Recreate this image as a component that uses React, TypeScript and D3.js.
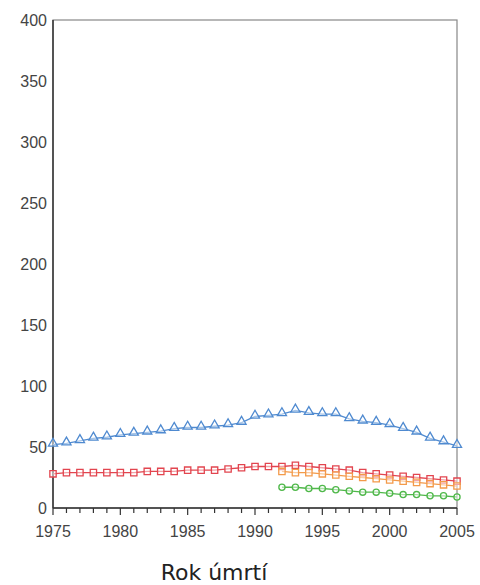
import React from "react";
import * as d3 from "d3";

const years = d3.range(1975, 2006);
const lateYears = d3.range(1992, 2006);

// blue triangles, 1975-2005
const blueValues = [
  52, 53, 55, 57, 58, 60, 61, 62, 63, 65, 66, 66, 67, 68, 70, 75, 76, 77, 80, 78,
  77, 77, 73, 71, 70, 68, 65, 62, 57, 54, 51,
];
// red squares, 1975-2005
const redValues = [
  28, 29, 29, 29, 29, 29, 29, 30, 30, 30, 31, 31, 31, 32, 33, 34, 34, 34, 35, 34,
  33, 32, 31, 29, 28, 27, 26, 25, 24, 23, 22,
];
// orange squares, 1992-2005
const orangeValues = [30, 29, 29, 28, 27, 26, 25, 24, 23, 22, 21, 20, 19, 18];
// green circles, 1992-2005
const greenValues = [17, 17, 16, 16, 15, 14, 13, 13, 12, 11, 11, 10, 10, 9];

const yTicks = [0, 50, 100, 150, 200, 250, 300, 350, 400];
const xTicks = [1975, 1980, 1985, 1990, 1995, 2000, 2005];

const W = 480;
const H = 585;
const M = { left: 53, right: 23, top: 20, bottom: 77 };

type Series = { xs: number[]; ys: number[]; color: string; shape: string };

const series: Series[] = [
  { xs: years, ys: redValues, color: "#e2454f", shape: "square" },
  { xs: lateYears, ys: orangeValues, color: "#f39a4a", shape: "square" },
  { xs: lateYears, ys: greenValues, color: "#4fb84a", shape: "circle" },
  { xs: years, ys: blueValues, color: "#4f8ad0", shape: "triangle" },
];

export default function App() {
  const x = d3.scaleLinear().domain([1975, 2005]).range([M.left, W - M.right]);
  const y = d3.scaleLinear().domain([0, 400]).range([H - M.bottom, M.top]);
  const line = d3.line<[number, number]>().x((d) => x(d[0])).y((d) => y(d[1]));
  const tri = d3.symbol(d3.symbolTriangle, 36)()!;
  const sq = d3.symbol(d3.symbolSquare, 40)()!;
  const circ = d3.symbol(d3.symbolCircle, 30)()!;
  const font = "'Liberation Sans', Arial, sans-serif";

  return (
    <svg
      width={W}
      height={H}
      style={{ position: "absolute", left: 0, top: 0, background: "#fff" }}
    >
      {/* frame */}
      <rect
        x={M.left}
        y={M.top}
        width={W - M.left - M.right}
        height={H - M.top - M.bottom}
        fill="none"
        stroke="#888"
        strokeWidth={1.2}
      />
      <line x1={M.left} x2={M.left} y1={M.top} y2={H - M.bottom} stroke="#333" strokeWidth={1.5} />
      <line x1={M.left} x2={W - M.right} y1={H - M.bottom} y2={H - M.bottom} stroke="#333" strokeWidth={1.5} />

      {years.map((yr) => (
        <line
          key={yr}
          x1={x(yr)}
          x2={x(yr)}
          y1={H - M.bottom}
          y2={H - M.bottom + (yr % 5 === 0 ? 7 : 5)}
          stroke="#333"
          strokeWidth={1.2}
        />
      ))}
      {xTicks.map((t) => (
        <text key={t} x={x(t)} y={H - M.bottom + 29} textAnchor="middle" fontSize={16} fill="#444" fontFamily={font}>
          {t}
        </text>
      ))}
      {yTicks.map((t) => (
        <text key={t} x={M.left - 6} y={y(t) + 6} textAnchor="end" fontSize={16} fill="#444" fontFamily={font}>
          {t}
        </text>
      ))}

      {series.map((s, i) => {
        const pts = s.xs.map((v, j) => [v, s.ys[j]] as [number, number]);
        const path = s.shape === "triangle" ? tri : s.shape === "square" ? sq : circ;
        return (
          <g key={i}>
            <path d={line(pts)!} fill="none" stroke={s.color} strokeWidth={1.3} />
            {pts.map((p, j) => (
              <path
                key={j}
                d={path}
                transform={`translate(${x(p[0])},${y(p[1]) + (s.shape === "triangle" ? -1 : 0)})`}
                fill="#fff"
                fillOpacity={0.5}
                stroke={s.color}
                strokeWidth={1.3}
              />
            ))}
          </g>
        );
      })}

      <text x={214} y={580} textAnchor="middle" fontSize={22} fill="#222" fontFamily="'DejaVu Sans', sans-serif">
        Rok úmrtí
      </text>
    </svg>
  );
}
